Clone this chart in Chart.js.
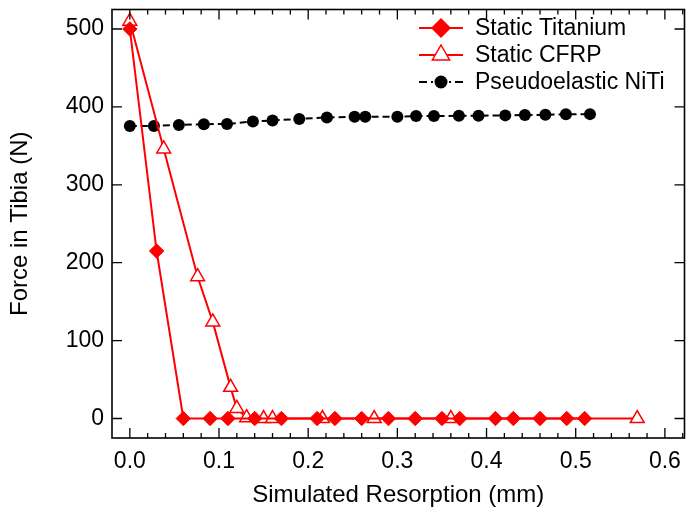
<!DOCTYPE html>
<html>
<head>
<meta charset="utf-8">
<script src="https://cdn.jsdelivr.net/npm/chart.js@4.4.1/dist/chart.umd.min.js"></script>
<style>
  html, body { margin: 0; padding: 0; background: #fff; }
</style>
</head>
<body>
<canvas id="chart" width="694" height="518"></canvas>
<script>
// values
const titaniumX = [0, 0.03, 0.06, 0.09, 0.11, 0.14, 0.17, 0.21, 0.23, 0.26, 0.29, 0.32, 0.35, 0.37, 0.41, 0.43, 0.46, 0.49, 0.51];
const titaniumY = [500, 215, 0, 0, 0, 0, 0, 0, 0, 0, 0, 0, 0, 0, 0, 0, 0, 0, 0];

const cfrpX = [0, 0.038, 0.076, 0.093, 0.113, 0.12, 0.131, 0.15, 0.16, 0.216, 0.274, 0.36, 0.569];
const cfrpY = [510, 346, 182, 124, 40, 13, 1, 0, 0, 0, 0, 0, 0];

const nitiX = [0, 0.027, 0.055, 0.083, 0.109, 0.138, 0.16, 0.19, 0.221, 0.252, 0.264, 0.3, 0.321, 0.341, 0.369, 0.391, 0.421, 0.443, 0.466, 0.489, 0.516];
const nitiY = [375.6, 375.6, 376.9, 377.8, 378.1, 381.2, 382.5, 384.5, 386.5, 387.3, 387.3, 387.3, 388.2, 388.2, 388.6, 388.6, 389.1, 389.5, 389.9, 390.4, 390.7];

const seriesNames = ['Static Titanium', 'Static CFRP', 'Pseudoelastic NiTi'];

const xTicks = [0, 0.1, 0.2, 0.3, 0.4, 0.5, 0.6];
const xTickLabels = ['0.0', '0.1', '0.2', '0.3', '0.4', '0.5', '0.6'];
const yTicks = [0, 100, 200, 300, 400, 500];
const yTickLabels = ['0', '100', '200', '300', '400', '500'];

const FONT = "'Liberation Sans', Arial, sans-serif";
const RED = '#ff0000';

const pts = (xs, ys) => xs.map((x, i) => ({ x: x, y: ys[i] }));

// frame with inward ticks on all four sides
const frame = {
  id: 'frame',
  afterDatasetsDraw(chart) {
    const { ctx, chartArea: a, scales: { x, y } } = chart;
    ctx.save();
    ctx.strokeStyle = '#000';
    ctx.lineWidth = 1.6;
    ctx.strokeRect(a.left, a.top, a.right - a.left, a.bottom - a.top);
    ctx.lineWidth = 1.3;
    ctx.beginPath();
    // x minor + major
    for (let v = -0.02; v <= x.max + 1e-9; v += 0.02) {
      const px = x.getPixelForValue(v);
      if (px < a.left + 1 || px > a.right - 1) continue;
      const major = xTicks.some(t => Math.abs(t - v) < 1e-6);
      const len = major ? 10 : 5;
      ctx.moveTo(px, a.bottom); ctx.lineTo(px, a.bottom - len);
      ctx.moveTo(px, a.top); ctx.lineTo(px, a.top + len);
    }
    yTicks.forEach(t => {
      const py = y.getPixelForValue(t);
      ctx.moveTo(a.left, py); ctx.lineTo(a.left + 10, py);
      ctx.moveTo(a.right, py); ctx.lineTo(a.right - 10, py);
    });
    ctx.stroke();
    ctx.restore();
  }
};

// legend: line sample with marker, like the original
const legendBox = {
  id: 'legendBox',
  afterDraw(chart) {
    const ctx = chart.ctx;
    const rows = [28, 55, 82];
    const x0 = 419, x1 = 463, xm = 441;
    ctx.save();
    chart.data.datasets.forEach((ds, i) => {
      const yy = rows[i];
      ctx.strokeStyle = ds.borderColor;
      ctx.lineWidth = 2;
      ctx.setLineDash(i === 2 ? [8, 4, 2, 4] : []);
      ctx.beginPath();
      ctx.moveTo(x0, yy); ctx.lineTo(x1, yy);
      ctx.stroke();
      ctx.setLineDash([]);
      ctx.beginPath();
      if (i === 0) {
        const r = 10;
        ctx.moveTo(xm - r, yy); ctx.lineTo(xm, yy - r); ctx.lineTo(xm + r, yy); ctx.lineTo(xm, yy + r);
        ctx.closePath();
        ctx.fillStyle = RED; ctx.fill();
      } else if (i === 1) {
        const r = 10;
        ctx.moveTo(xm, yy - r);
        ctx.lineTo(xm + r * 0.866, yy + r * 0.5);
        ctx.lineTo(xm - r * 0.866, yy + r * 0.5);
        ctx.closePath();
        ctx.fillStyle = '#fff'; ctx.fill();
        ctx.lineWidth = 1.5; ctx.strokeStyle = RED; ctx.stroke();
      } else {
        ctx.arc(xm, yy, 6.5, 0, Math.PI * 2);
        ctx.fillStyle = '#000'; ctx.fill();
      }
      ctx.fillStyle = '#000';
      ctx.font = '23px ' + FONT;
      ctx.textBaseline = 'middle';
      ctx.textAlign = 'left';
      ctx.fillText(seriesNames[i], 475, yy + 1);
    });
    ctx.restore();
  }
};

new Chart(document.getElementById('chart'), {
  type: 'scatter',
  data: {
    datasets: [
      {
        label: seriesNames[0],
        data: pts(titaniumX, titaniumY),
        showLine: true,
        borderColor: RED,
        borderWidth: 2,
        pointStyle: 'rectRot',
        pointRadius: 7.2,
        pointBackgroundColor: RED,
        pointBorderColor: RED,
        pointBorderWidth: 1
      },
      {
        label: seriesNames[1],
        data: pts(cfrpX, cfrpY),
        showLine: true,
        borderColor: RED,
        borderWidth: 2,
        pointStyle: 'triangle',
        pointRadius: 8,
        pointBackgroundColor: '#fff',
        pointBorderColor: RED,
        pointBorderWidth: 1.5
      },
      {
        label: seriesNames[2],
        data: pts(nitiX, nitiY),
        showLine: true,
        borderColor: '#000',
        borderWidth: 2,
        borderDash: [7, 4],
        pointStyle: 'circle',
        pointRadius: 6,
        pointBackgroundColor: '#000',
        pointBorderColor: '#000',
        pointBorderWidth: 0
      }
    ]
  },
  options: {
    responsive: false,
    animation: false,
    devicePixelRatio: 1,
    layout: { padding: { top: 5, right: 8, left: 0, bottom: 0 } },
    plugins: { legend: { display: false }, tooltip: { enabled: false } },
    scales: {
      x: {
        type: 'linear',
        min: -0.02,
        max: 0.622,
        grid: { display: false, drawTicks: false },
        border: { display: false },
        afterBuildTicks: s => { s.ticks = xTicks.map(v => ({ value: v })); },
        afterFit: s => { s.height = 80; s.paddingLeft = 0; s.paddingRight = 0; },
        ticks: {
          padding: 10,
          color: '#000',
          font: { family: FONT, size: 23 },
          callback: (v) => xTickLabels[xTicks.findIndex(t => Math.abs(t - v) < 1e-6)]
        },
        title: {
          display: true,
          text: 'Simulated Resorption (mm)',
          color: '#000',
          font: { family: FONT, size: 24 },
          padding: { top: 0, bottom: 8 }
        }
      },
      y: {
        type: 'linear',
        min: -25,
        max: 525,
        grid: { display: false, drawTicks: false },
        border: { display: false },
        afterBuildTicks: s => { s.ticks = yTicks.map(v => ({ value: v })); },
        afterFit: s => { s.width = 112; s.paddingTop = 0; s.paddingBottom = 0; },
        ticks: {
          padding: 8,
          color: '#000',
          font: { family: FONT, size: 23 },
          callback: (v) => yTickLabels[yTicks.indexOf(v)]
        },
        title: {
          display: true,
          text: 'Force in Tibia (N)',
          color: '#000',
          font: { family: FONT, size: 24 },
          padding: { top: 6, bottom: 0 }
        }
      }
    }
  },
  plugins: [frame, legendBox]
});
</script>
</body>
</html>
